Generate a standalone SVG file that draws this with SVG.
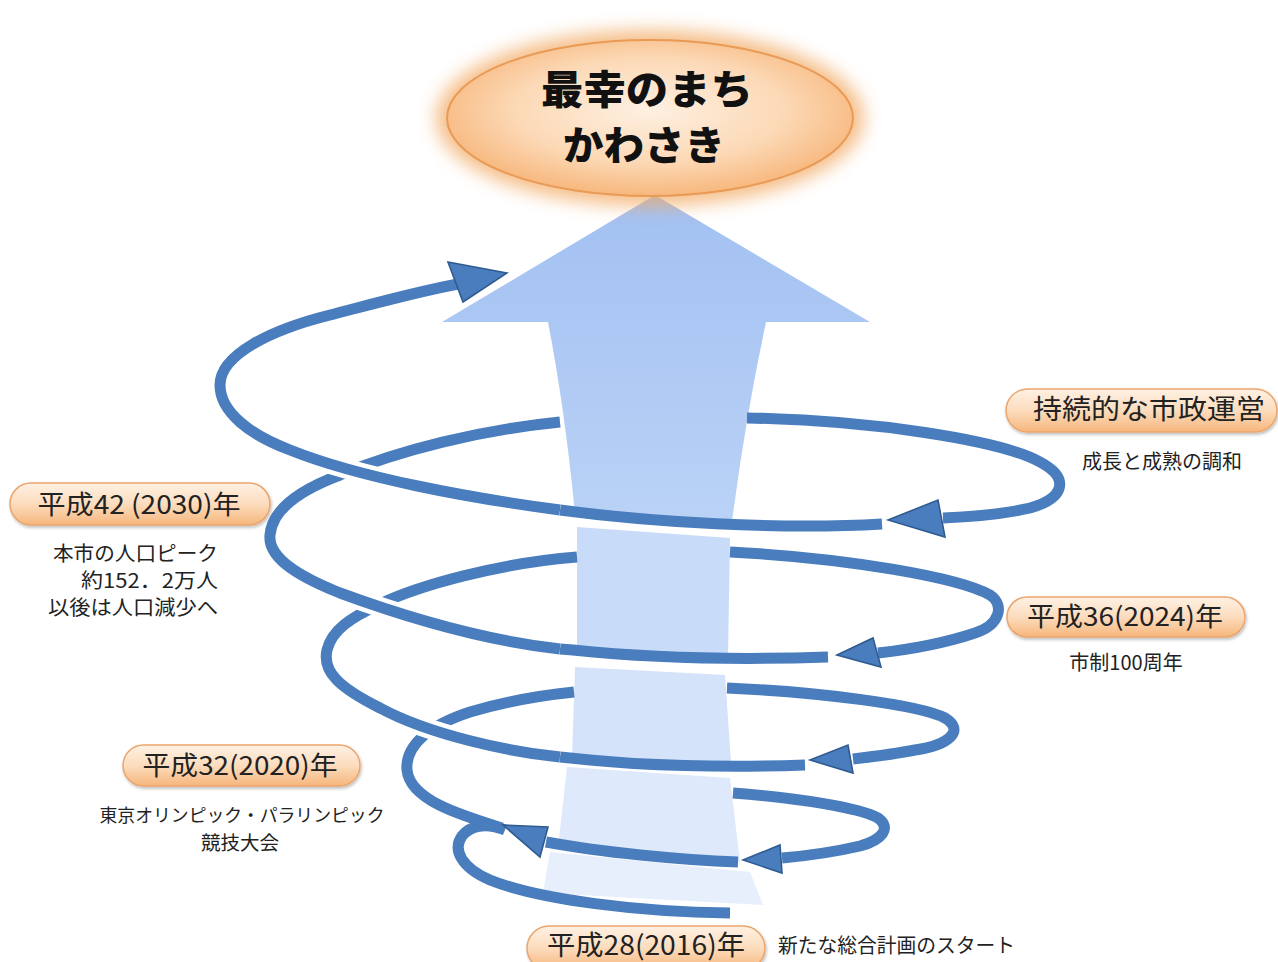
<svg xmlns="http://www.w3.org/2000/svg" width="1278" height="962" viewBox="0 0 1278 962">
<defs>
<style>
.s{fill:none;stroke:#4a7dbd;stroke-width:11;stroke-linecap:butt}
.h{fill:none;stroke:#fff;stroke-width:20;stroke-linecap:butt}
.ah{fill:#4a7dbd;stroke:#2f5b91;stroke-width:1.6;stroke-linejoin:miter}
.pill{fill:url(#pg);stroke:#eba56c;stroke-width:1.5;filter:url(#sh)}
.lt{font-family:"Noto Sans CJK JP","Noto Sans",sans-serif;fill:#222;text-anchor:middle}
.big{font-size:26px}
.sm{font-size:20px}
.ttl{font-family:"Noto Sans CJK JP","Noto Sans",sans-serif;font-size:40px;font-weight:900;fill:#111;text-anchor:middle}
</style>
<linearGradient id="pg" x1="0" y1="0" x2="0" y2="1">
<stop offset="0" stop-color="#fef1e4"/>
<stop offset="0.5" stop-color="#fcdcbd"/>
<stop offset="1" stop-color="#f6b67c"/>
</linearGradient>
<radialGradient id="eg" cx="0.5" cy="0.45" r="0.55">
<stop offset="0" stop-color="#fef0e2"/>
<stop offset="0.6" stop-color="#fcd9b6"/>
<stop offset="1" stop-color="#f7b77d"/>
</radialGradient>
<linearGradient id="a1" gradientUnits="userSpaceOnUse" x1="0" y1="195" x2="0" y2="522">
<stop offset="0" stop-color="#a2c0f2"/>
<stop offset="1" stop-color="#bad2f6"/>
</linearGradient>
<filter id="glow" x="-30%" y="-40%" width="160%" height="180%">
<feGaussianBlur stdDeviation="9"/>
</filter>
<filter id="sh" x="-10%" y="-30%" width="120%" height="170%">
<feDropShadow dx="1" dy="2" stdDeviation="1.5" flood-color="#000" flood-opacity="0.25"/>
</filter>
</defs>
<rect width="1278" height="962" fill="#fff"/>

<g id="arrow">
<path d="M655,195 L870,322 L766,322 Q745,420 732,522 L575,514 Q565,410 548,322 L442,322 Z" fill="url(#a1)"/>
<path d="M577,527 L730,538 L728,655 L577,650 Z" fill="#c8dbf8"/>
<path d="M575,667 L725,675 L731,762 L572,757 Z" fill="#d4e3fa"/>
<path d="M567,767 L730,778 L740,862 L558,848 Z" fill="#dee9fb"/>
<path d="M550,852 L750,872 L763,905 L543,893 Z" fill="#e7effc"/>
</g>

<g id="goal">
<ellipse cx="650" cy="118" rx="214" ry="88" fill="#f2a860" opacity="0.75" filter="url(#glow)"/>
<ellipse cx="650" cy="118" rx="203" ry="78" fill="url(#eg)" stroke="#e99a55" stroke-width="2"/>
<text class="ttl" x="647" y="104" textLength="212" lengthAdjust="spacingAndGlyphs">最幸のまち</text>
<text class="ttl" x="644" y="160" textLength="162" lengthAdjust="spacingAndGlyphs">かわさき</text>
</g>

<g id="connectors">
<path class="s" d="M730,913 C640,912 540,900 490,880 C462,868 452,850 462,836 C470,826 485,822 505,830"/>
<path class="s" d="M733,793 C800,798 860,808 878,818 C892,828 882,840 860,846 C830,853 805,856 782,858"/>
<path class="s" d="M738,862 C680,860 600,852 546,842"/>
<path class="s" d="M502,828 C460,815 410,800 407,770 C405,745 430,725 470,712 C510,700 545,695 574,692"/>
<polygon class="ah" points="743,860 780,845 782,873"/>
<polygon class="ah" points="503,825 548,827 540,857"/>
<path class="s" d="M727,688 C820,692 920,705 945,718 C965,730 950,745 915,750 C895,754 870,757 853,759"/>
<path class="s" d="M805,765 C720,768 640,765 590,760 L560,757"/>
<path class="h" d="M560,757 C510,752 430,735 380,708 C340,688 322,672 327,650 C332,630 350,618 380,604"/>
<path class="s" d="M560,757 C510,752 430,735 380,708 C340,688 322,672 327,650 C332,630 350,618 380,604 C420,585 500,563 577,557"/>
<polygon class="ah" points="810,760 848,745 853,773"/>
<path class="s" d="M730,552 C850,558 960,578 990,595 C1005,605 1000,625 975,633 C945,643 905,650 878,653"/>
<path class="s" d="M828,657 C740,660 650,658 573,650 L560,649"/>
<path class="h" d="M560,649 C480,640 400,615 340,593 C290,573 268,555 270,535 C272,510 300,490 340,475"/>
<path class="s" d="M560,649 C480,640 400,615 340,593 C290,573 268,555 270,535 C272,510 300,490 340,475 C400,450 480,430 560,422"/>
<polygon class="ah" points="837,655 873,638 881,667"/>
<path class="s" d="M747,418 C870,420 1000,440 1040,462 C1070,478 1065,498 1030,508 C1000,515 970,517 943,518"/>
<path class="s" d="M882,524 C780,530 650,522 560,510"/>
<path class="h" d="M560,510 C470,498 360,478 290,450 C250,435 220,412 220,385"/>
<path class="s" d="M560,510 C470,498 360,478 290,450 C250,435 220,412 220,385 C220,355 270,330 330,315 C380,302 420,291 458,284"/>
<polygon class="ah" points="888,520 938,500 945,537"/>
<polygon class="ah" points="507,273 448,262 463,302"/>
</g>

<g id="label-2030">
<rect class="pill" x="10" y="483" width="260" height="42" rx="21"/>
<text class="lt big" x="139" y="514" textLength="203" lengthAdjust="spacingAndGlyphs">平成42 (2030)年</text>
<text class="lt sm" x="218" y="561" style="text-anchor:end" textLength="165" lengthAdjust="spacingAndGlyphs">本市の人口ピーク</text>
<text class="lt sm" x="218" y="588" style="text-anchor:end" textLength="137" lengthAdjust="spacingAndGlyphs">約152．2万人</text>
<text class="lt sm" x="218" y="615" style="text-anchor:end" textLength="170" lengthAdjust="spacingAndGlyphs">以後は人口減少へ</text>
</g>

<g id="label-sustain">
<rect class="pill" x="1006" y="389" width="271" height="43" rx="21.5"/>
<text class="lt" x="1149" y="419" font-size="27" textLength="232" lengthAdjust="spacingAndGlyphs">持続的な市政運営</text>
<text class="lt sm" x="1162" y="469">成長と成熟の調和</text>
</g>

<g id="label-2024">
<rect class="pill" x="1007" y="597" width="238" height="40" rx="20"/>
<text class="lt big" x="1125" y="626" textLength="196" lengthAdjust="spacingAndGlyphs">平成36(2024)年</text>
<text class="lt sm" x="1126" y="670">市制100周年</text>
</g>

<g id="label-2020">
<rect class="pill" x="123" y="745" width="237" height="41" rx="20.5"/>
<text class="lt big" x="240" y="775" textLength="195" lengthAdjust="spacingAndGlyphs">平成32(2020)年</text>
<text class="lt" x="242" y="822" font-size="18" textLength="285" lengthAdjust="spacingAndGlyphs">東京オリンピック・パラリンピック</text>
<text class="lt" x="240" y="850" font-size="19.5">競技大会</text>
</g>

<g id="label-2016">
<rect class="pill" x="527" y="926" width="238" height="44" rx="22"/>
<text class="lt" x="646" y="955" font-size="27" textLength="198" lengthAdjust="spacingAndGlyphs">平成28(2016)年</text>
<text class="lt sm" x="778" y="953" style="text-anchor:start" textLength="237" lengthAdjust="spacingAndGlyphs">新たな総合計画のスタート</text>
</g>
</svg>
